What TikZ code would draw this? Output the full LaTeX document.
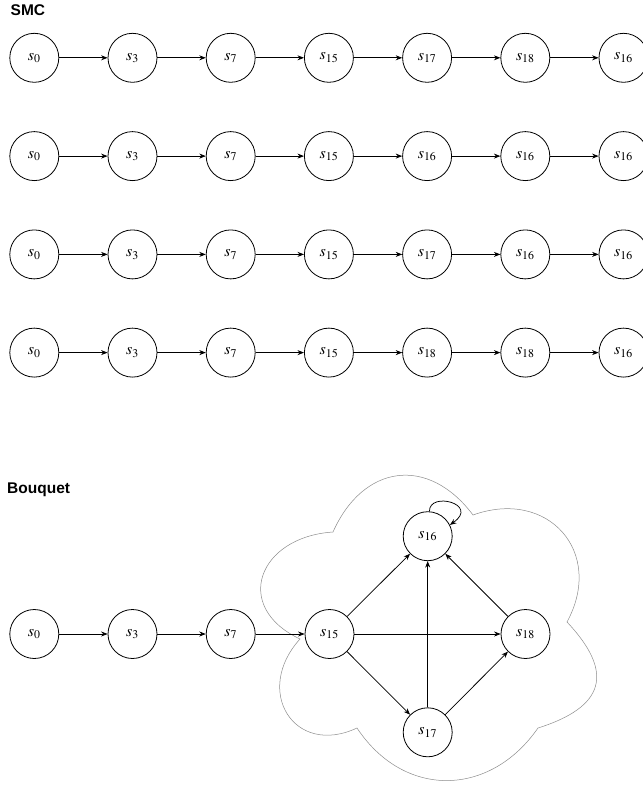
\documentclass[tikz,border=0pt]{standalone}
\usepackage{mathptmx}
\usepackage[no-math]{fontspec}
\newfontfamily\labelsans{Liberation Sans}
\usetikzlibrary{arrows.meta}
\begin{document}
\begin{tikzpicture}[x=1pt,y=-1pt,
  state/.style={circle, draw, line width=0.8pt, minimum size=49pt, inner sep=0pt, fill=white,
    font=\fontsize{16}{19}\selectfont},
  edge/.style={-{Stealth[length=6.5pt,width=5pt]}, line width=0.75pt},
  title/.style={font=\labelsans\bfseries\fontsize{15.5}{18}\selectfont, anchor=base west, inner sep=0pt},
  cloudline/.style={draw=black!45, line width=0.5pt}]
\useasboundingbox (0,0) rectangle (643,785);

\node[title] (smc) at (10.5,15.5) {SMC};
\node[title] (bq) at (7,493.5) {Bouquet};

% SMC rows
\foreach \r/\yy/\labs in {1/57.8/{0,3,7,15,17,18,16},2/156.1/{0,3,7,15,16,16,16},3/254.4/{0,3,7,15,17,16,16},4/352.6/{0,3,7,15,18,18,16}}{
  \foreach \n [count=\i] in \labs {
    \node[state] (r\r c\i) at ({34.3+98.2*(\i-1)},\yy) {$s_{\n}$};
  }
  \foreach \i in {1,...,6} {
    \pgfmathtruncatemacro\j{\i+1}
    \draw[edge] (r\r c\i) -- (r\r c\j);
  }
}

% Cloud
\draw[cloudline] (300,639)
  .. controls (232,607) and (258,537) .. (333,532)
  .. controls (363,464.5) and (428,455) .. (473,515)
  .. controls (548,488) and (605,552) .. (567,622)
  .. controls (615,673) and (604.5,707) .. (538,728)
  .. controls (489.5,797.7) and (403.75,798.5) .. (357,728)
  .. controls (294,757.4) and (253,690.8) .. cycle;

% Bouquet
\node[state] (b0) at (34.3,634) {$s_{0}$};
\node[state] (b3) at (132.5,634) {$s_{3}$};
\node[state] (b7) at (230.7,634) {$s_{7}$};
\node[state] (b15) at (329.5,634) {$s_{15}$};
\node[state] (b16) at (427.7,536.2) {$s_{16}$};
\node[state] (b18) at (525.5,634) {$s_{18}$};
\node[state] (b17) at (427.7,732.3) {$s_{17}$};

\draw[edge] (b0) -- (b3);
\draw[edge] (b3) -- (b7);
\draw[edge] (b7) -- (b15);
\draw[edge] (b15) -- (b16);
\draw[edge] (b15) -- (b18);
\draw[edge] (b15) -- (b17);
\draw[edge] (b17) -- (b16);
\draw[edge] (b17) -- (b18);
\draw[edge] (b18) -- (b16);
\draw[edge] (b16.86) .. controls (429,491) and (480,504) .. (b16.27);
\end{tikzpicture}
\end{document}
